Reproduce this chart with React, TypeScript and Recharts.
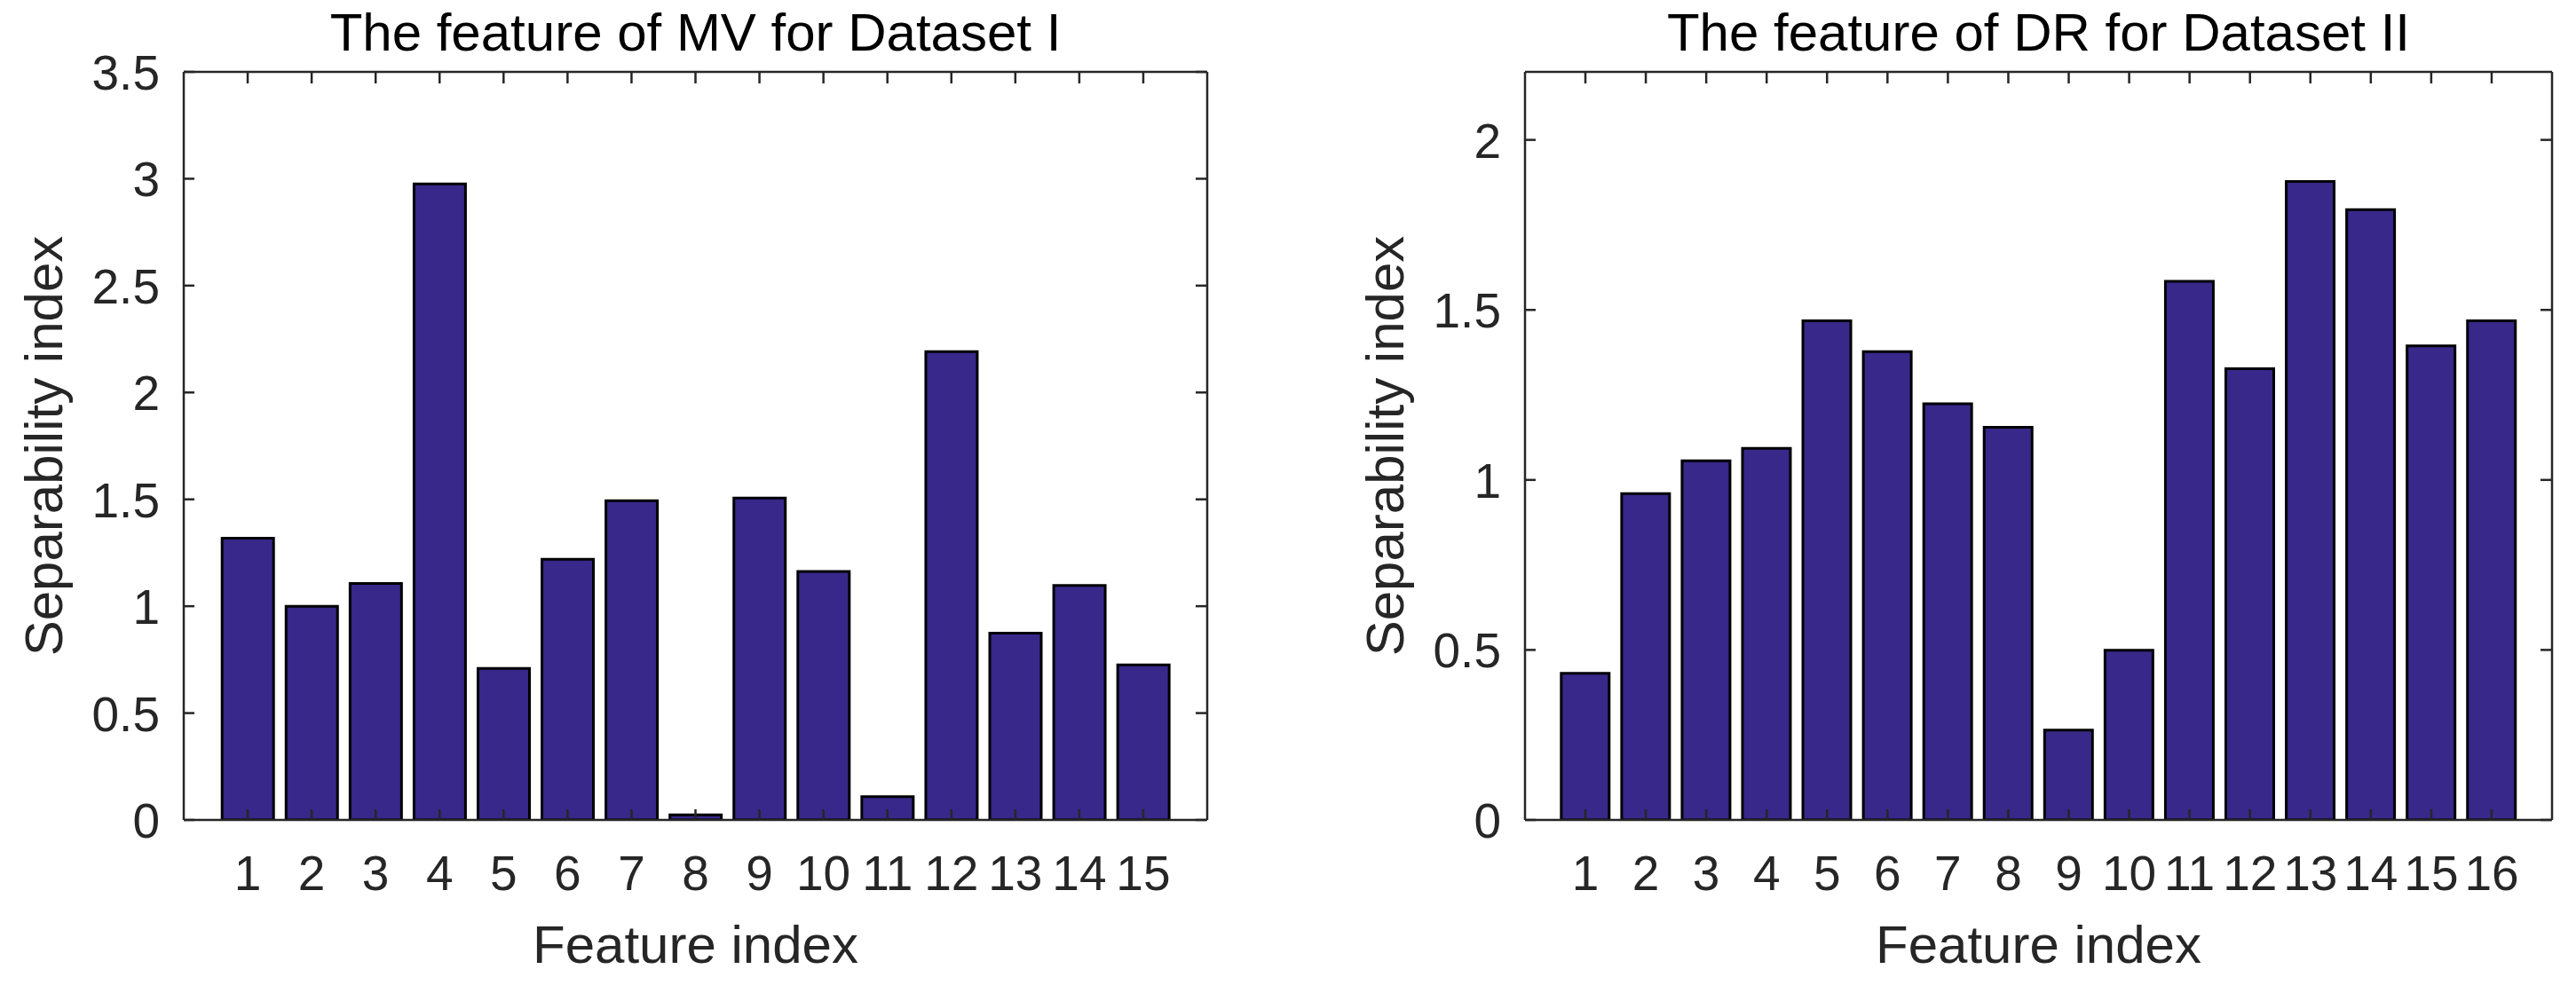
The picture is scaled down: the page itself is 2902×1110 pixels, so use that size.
import React from "react";
import { BarChart, Bar, XAxis, YAxis, Label } from "recharts";

// Dataset I: feature of MV
const MV_FEATURES = ["1", "2", "3", "4", "5", "6", "7", "8", "9", "10", "11", "12", "13", "14", "15"];
const MV_VALUES = [1.318, 1.0, 1.106, 2.976, 0.709, 1.22, 1.494, 0.024, 1.506, 1.162, 0.109, 2.191, 0.874, 1.097, 0.726];
const MV_TICKS = [0, 0.5, 1, 1.5, 2, 2.5, 3, 3.5];

// Dataset II: feature of DR
const DR_FEATURES = ["1", "2", "3", "4", "5", "6", "7", "8", "9", "10", "11", "12", "13", "14", "15", "16"];
const DR_VALUES = [0.431, 0.96, 1.056, 1.093, 1.468, 1.377, 1.224, 1.155, 0.264, 0.499, 1.584, 1.327, 1.878, 1.795, 1.394, 1.468];
const DR_TICKS = [0, 0.5, 1, 1.5, 2];

const FONT = '"Liberation Sans", Arial, Helvetica, sans-serif';
const INK = "#262626";
const BAR_FILL = "#372889";
const TICK_LEN = 12;

interface PanelProps {
  title: string;
  features: string[];
  values: number[];
  ticks: number[];
  yMax: number;
  yAxisWidth: number;
  rightMargin: number;
}

const W = 1451;
const H = 1110;
const TOP = 82;
const XAXIS_H = 186;

function Panel({ title, features, values, ticks, yMax, yAxisWidth, rightMargin }: PanelProps) {
  const data = features.map((f, i) => ({ feature: f, value: values[i] }));
  const plotW = W - yAxisWidth - rightMargin;
  const unit = plotW / (features.length + 1);
  const pad = unit / 2;

  const bottomTick = (p: any) => (
    <g>
      <line x1={p.x} y1={p.y} x2={p.x} y2={p.y - TICK_LEN} stroke={INK} strokeWidth={2.5} />
      <text x={p.x} y={p.y + 79} textAnchor="middle" fontSize={55} fill={INK} fontFamily={FONT}>
        {p.payload.value}
      </text>
    </g>
  );
  const topTick = (p: any) => (
    <line x1={p.x} y1={TOP} x2={p.x} y2={TOP + TICK_LEN} stroke={INK} strokeWidth={2.5} />
  );
  const leftTick = (p: any) => (
    <g>
      <line x1={p.x} y1={p.y} x2={p.x + TICK_LEN} y2={p.y} stroke={INK} strokeWidth={2.5} />
      <text x={p.x - 27} y={p.y + 20} textAnchor="end" fontSize={55} fill={INK} fontFamily={FONT}>
        {p.payload.value}
      </text>
    </g>
  );
  const rightX = W - rightMargin;
  const rightTick = (p: any) => (
    <line x1={rightX} y1={p.y} x2={rightX - TICK_LEN} y2={p.y} stroke={INK} strokeWidth={2.5} />
  );

  return (
    <BarChart
      width={W}
      height={H}
      data={data}
      margin={{ top: TOP - 1, right: rightMargin - 1, bottom: 0, left: 0 }}
      barCategoryGap="10%"
    >
      <XAxis
        dataKey="feature"
        type="category"
        height={XAXIS_H}
        padding={{ left: pad, right: pad }}
        interval={0}
        tickSize={0}
        tickMargin={0}
        tickLine={false}
        tick={bottomTick}
        axisLine={{ stroke: INK, strokeWidth: 2.5 }}
      >
        <Label
          content={(props: any) => {
            const vb = props.viewBox;
            return (
              <text x={vb.x + vb.width / 2} y={vb.y + 161} textAnchor="middle" fontSize={60} fill={INK} fontFamily={FONT}>
                Feature index
              </text>
            );
          }}
        />
      </XAxis>
      <XAxis
        xAxisId="top"
        dataKey="feature"
        type="category"
        orientation="top"
        height={1}
        mirror
        padding={{ left: pad, right: pad }}
        interval={0}
        tickSize={0}
        tickMargin={0}
        tickLine={false}
        tick={topTick}
        axisLine={{ stroke: INK, strokeWidth: 2.5 }}
      >
        <Label
          content={(props: any) => {
            const vb = props.viewBox;
            return (
              <text x={vb.x + vb.width / 2} y={57} textAnchor="middle" fontSize={60} fill="#000" fontFamily={FONT}>
                {title}
              </text>
            );
          }}
        />
      </XAxis>
      <YAxis
        type="number"
        width={yAxisWidth}
        domain={[0, yMax]}
        ticks={ticks}
        allowDataOverflow
        interval={0}
        tickSize={0}
        tickMargin={0}
        tickLine={false}
        tick={leftTick}
        axisLine={{ stroke: INK, strokeWidth: 2.5 }}
      >
        <Label
          content={(props: any) => {
            const vb = props.viewBox;
            const x = vb.x + vb.width - 137;
            const y = vb.y + vb.height / 2;
            return (
              <text x={x} y={y} transform={`rotate(-90, ${x}, ${y})`} textAnchor="middle" fontSize={60} fill={INK} fontFamily={FONT}>
                Separability index
              </text>
            );
          }}
        />
      </YAxis>
      <YAxis
        yAxisId="r"
        type="number"
        orientation="right"
        width={1}
        mirror
        domain={[0, yMax]}
        ticks={ticks}
        allowDataOverflow
        interval={0}
        tickSize={0}
        tickMargin={0}
        tickLine={false}
        tick={rightTick}
        axisLine={{ stroke: INK, strokeWidth: 2.5 }}
      />
      <Bar dataKey="value" fill={BAR_FILL} stroke="#000" strokeWidth={3} isAnimationActive={false} />
    </BarChart>
  );
}

export default function App() {
  return (
    <div style={{ position: "absolute", left: 0, top: 0, width: 2902, height: 1110, background: "#fff" }}>
      <div style={{ position: "absolute", left: 0, top: 0 }}>
        <Panel
          title="The feature of MV for Dataset I"
          features={MV_FEATURES}
          values={MV_VALUES}
          ticks={MV_TICKS}
          yMax={3.5}
          yAxisWidth={207}
          rightMargin={92}
        />
      </div>
      <div style={{ position: "absolute", left: 1451, top: 0 }}>
        <Panel
          title="The feature of DR for Dataset II"
          features={DR_FEATURES}
          values={DR_VALUES}
          ticks={DR_TICKS}
          yMax={2.2}
          yAxisWidth={267}
          rightMargin={28}
        />
      </div>
    </div>
  );
}
